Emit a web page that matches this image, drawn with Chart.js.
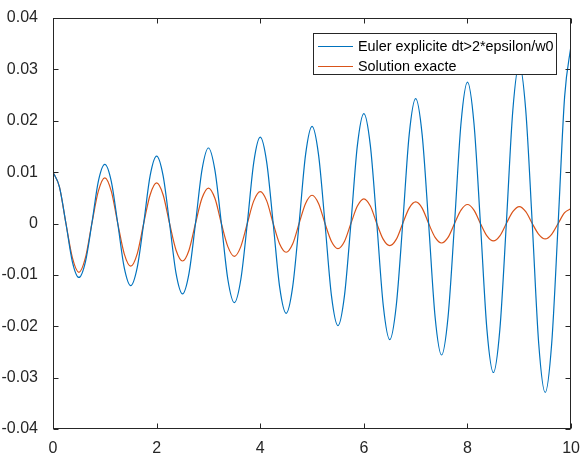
<!DOCTYPE html>
<html>
<head>
<meta charset="utf-8">
<script src="https://cdn.jsdelivr.net/npm/chart.js@4/dist/chart.umd.min.js"></script>
<style>
  body { margin: 0; background: #fff; overflow: hidden; }
  #wrap { position: relative; width: 582px; height: 454px; }
  #legend {
    position: absolute; left: 313px; top: 33px; width: 242px; height: 40px;
    background: #fff; border: 1px solid #262626;
    font: 14.4px "Liberation Sans", Arial, Helvetica, sans-serif; color: #000;
  }
  .row { position: absolute; left: 4px; height: 20px; line-height: 20px; white-space: nowrap; }
  .row span.swatch { position: absolute; left: 0; top: 10px; width: 35px; height: 0; border-top: 1.2px solid; }
  .row span.label { position: absolute; left: 40px; top: 0; }
</style>
</head>
<body>
<div id="wrap">
  <canvas id="chart" width="582" height="454"></canvas>
  <div id="legend"></div>
</div>
<script>
// Data (period ~1, quarter and eighth points)
const timeValues = [
  0, 0.125, 0.25, 0.375, 0.5, 0.625, 0.75, 0.875,
  1, 1.125, 1.25, 1.375, 1.5, 1.625, 1.75, 1.875,
  2, 2.125, 2.25, 2.375, 2.5, 2.625, 2.75, 2.875,
  3, 3.125, 3.25, 3.375, 3.5, 3.625, 3.75, 3.875,
  4, 4.125, 4.25, 4.375, 4.5, 4.625, 4.75, 4.875,
  5, 5.125, 5.25, 5.375, 5.5, 5.625, 5.75, 5.875,
  6, 6.125, 6.25, 6.375, 6.5, 6.625, 6.75, 6.875,
  7, 7.125, 7.25, 7.375, 7.5, 7.625, 7.75, 7.875,
  8, 8.125, 8.25, 8.375, 8.5, 8.625, 8.75, 8.875,
  9, 9.125, 9.25, 9.375, 9.5, 9.625, 9.75, 9.875,
  10
];

const eulerValues = [
  0.0100, 0.0071, 0, -0.0075, -0.0105, -0.0075, 0, 0.0082,
  0.0115, 0.0082, 0, -0.0086, -0.0121, -0.0086, 0, 0.0093,
  0.0131, 0.0093, 0, -0.0097, -0.0137, -0.0097, 0, 0.0104,
  0.0147, 0.0104, 0, -0.0109, -0.0154, -0.0109, 0, 0.0119,
  0.0168, 0.0119, 0, -0.0124, -0.0175, -0.0124, 0, 0.0134,
  0.0189, 0.0134, 0, -0.0141, -0.0199, -0.0141, 0, 0.0152,
  0.0214, 0.0152, 0, -0.0160, -0.0226, -0.0160, 0, 0.0173,
  0.0243, 0.0173, 0, -0.0182, -0.0256, -0.0182, 0, 0.0195,
  0.0275, 0.0195, 0, -0.0206, -0.0290, -0.0206, 0, 0.0220,
  0.0310, 0.0220, 0, -0.0234, -0.0329, -0.0234, 0, 0.0247,
  0.0348
];

const exactValues = [
  0.0100, 0.0071, 0, -0.0067, -0.0095, -0.0067, 0, 0.0063,
  0.0089, 0.0063, 0, -0.0059, -0.0083, -0.0059, 0, 0.0056,
  0.0079, 0.0056, 0, -0.0052, -0.0073, -0.0052, 0, 0.0049,
  0.0069, 0.0049, 0, -0.0045, -0.0064, -0.0045, 0, 0.0044,
  0.0062, 0.0044, 0, -0.0040, -0.0056, -0.0040, 0, 0.0039,
  0.0055, 0.0039, 0, -0.0035, -0.0049, -0.0035, 0, 0.0034,
  0.0048, 0.0034, 0, -0.0031, -0.0043, -0.0031, 0, 0.0030,
  0.0042, 0.0030, 0, -0.0027, -0.0038, -0.0027, 0, 0.0026,
  0.0037, 0.0026, 0, -0.0024, -0.0034, -0.0024, 0, 0.0023,
  0.0033, 0.0023, 0, -0.0021, -0.0030, -0.0021, 0, 0.0021,
  0.0029
];

const xTickValues = [0, 2, 4, 6, 8, 10];
const yTickValues = [-0.04, -0.03, -0.02, -0.01, 0, 0.01, 0.02, 0.03, 0.04];

const seriesNames = ['Euler explicite dt>2*epsilon/w0', 'Solution exacte'];
const seriesColors = ['#0072BD', '#D95319'];

const axisColor = '#262626';
const axisFont = { family: '"Liberation Sans", Arial, Helvetica, sans-serif', size: 16 };

// MATLAB style box with inward ticks on all four sides
const frameTicks = {
  id: 'frameTicks',
  afterDatasetsDraw(chart) {
    const { ctx, chartArea: a, scales: { x, y } } = chart;
    const L = Math.round(a.left) + 0.5, R = Math.round(a.right) - 0.5;
    const T = Math.round(a.top) + 0.5, B = Math.round(a.bottom) - 0.5;
    ctx.save();
    ctx.strokeStyle = axisColor;
    ctx.lineWidth = 1;
    ctx.strokeRect(L, T, R - L, B - T);
    ctx.beginPath();
    xTickValues.forEach(v => {
      const px = Math.round(x.getPixelForValue(v)) + 0.5;
      ctx.moveTo(px, B); ctx.lineTo(px, B - 5);
      ctx.moveTo(px, T); ctx.lineTo(px, T + 5);
    });
    yTickValues.forEach(v => {
      const py = Math.round(y.getPixelForValue(v)) + 0.5;
      ctx.moveTo(L, py); ctx.lineTo(L + 5, py);
      ctx.moveTo(R, py); ctx.lineTo(R - 5, py);
    });
    ctx.stroke();
    ctx.restore();
  }
};

const toPoints = values => values.map((v, i) => ({ x: timeValues[i], y: v }));

new Chart(document.getElementById('chart'), {
  type: 'line',
  data: {
    datasets: [eulerValues, exactValues].map((values, i) => ({
      label: seriesNames[i],
      data: toPoints(values),
      borderColor: seriesColors[i],
      borderWidth: 1.2,
      pointRadius: 0,
      fill: false,
      cubicInterpolationMode: 'monotone'
    }))
  },
  options: {
    responsive: false,
    animation: false,
    devicePixelRatio: 1,
    layout: { padding: { top: 18, right: 9, left: 0, bottom: 0 } },
    plugins: { legend: { display: false }, tooltip: { enabled: false } },
    scales: {
      x: {
        type: 'linear',
        min: 0,
        max: 10,
        afterBuildTicks: s => { s.ticks = xTickValues.map(v => ({ value: v })); },
        afterFit: s => { s.height = 25; },
        grid: { display: false },
        border: { display: false },
        ticks: { color: axisColor, font: axisFont, padding: 2, maxRotation: 0,
                 callback: v => String(v) }
      },
      y: {
        type: 'linear',
        min: -0.04,
        max: 0.04,
        afterBuildTicks: s => { s.ticks = yTickValues.map(v => ({ value: v })); },
        afterFit: s => { s.width = 53; },
        grid: { display: false },
        border: { display: false },
        ticks: { color: axisColor, font: axisFont, padding: 7,
                 callback: v => String(Number(v.toFixed(2))) }
      }
    }
  },
  plugins: [frameTicks]
});

// Legend box in the upper right corner, as in the reference
const legendEl = document.getElementById('legend');
seriesNames.forEach((name, i) => {
  const row = document.createElement('div');
  row.className = 'row';
  row.style.top = (2 + i * 20) + 'px';
  row.innerHTML = `<span class="swatch" style="border-color:${seriesColors[i]}"></span><span class="label"></span>`;
  row.querySelector('.label').textContent = name;
  legendEl.appendChild(row);
});
</script>
</body>
</html>
